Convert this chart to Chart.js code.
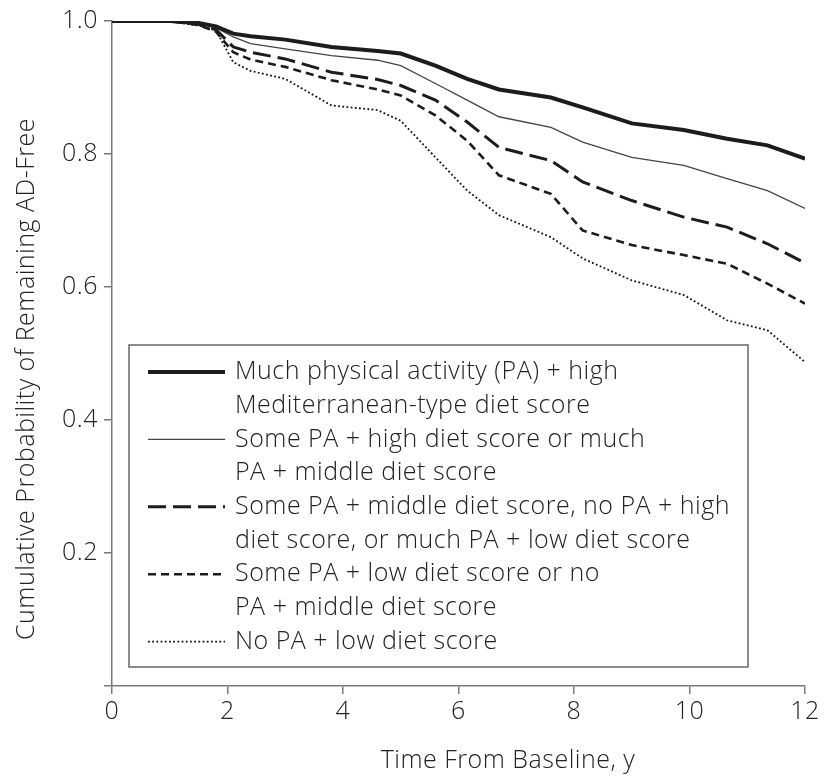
<!DOCTYPE html>
<html>
<head>
<meta charset="utf-8">
<title>Cumulative Probability of Remaining AD-Free</title>
<script src="https://cdn.jsdelivr.net/npm/chart.js@4/dist/chart.umd.min.js"></script>
<style>
    html, body { margin: 0; padding: 0; background: #fff; }
    #wrap { width: 837px; height: 777px; position: relative; }
</style>
</head>
<body>
<div id="wrap"><canvas id="kmChart"></canvas></div>
<script>
/* ==========================================================================
   Data
   ========================================================================== */

// time from baseline, years
const times = [0, 1.0, 1.5, 1.8, 2.1, 2.4, 3.0, 3.8, 4.6, 5.0, 5.6, 6.15, 6.7, 7.6, 8.15, 9.0, 9.9, 10.65, 11.35, 12];

// cumulative probability of remaining AD-free
const muchPaHighDiet = [1.0, 1.0, 0.997, 0.992, 0.981, 0.977, 0.972, 0.961, 0.955, 0.951, 0.933, 0.913, 0.897, 0.885, 0.870, 0.846, 0.836, 0.823, 0.813, 0.793];
const somePaHighDiet = [1.0, 1.0, 0.996, 0.990, 0.976, 0.966, 0.958, 0.948, 0.941, 0.933, 0.906, 0.881, 0.856, 0.840, 0.818, 0.795, 0.783, 0.763, 0.745, 0.718];
const somePaMiddleDiet = [1.0, 1.0, 0.995, 0.987, 0.961, 0.953, 0.943, 0.923, 0.912, 0.903, 0.881, 0.848, 0.810, 0.790, 0.758, 0.730, 0.705, 0.690, 0.665, 0.636];
const somePaLowDiet = [1.0, 1.0, 0.994, 0.984, 0.953, 0.942, 0.931, 0.911, 0.897, 0.888, 0.858, 0.820, 0.768, 0.740, 0.685, 0.663, 0.648, 0.635, 0.605, 0.575];
const noPaLowDiet = [1.0, 1.0, 0.993, 0.986, 0.938, 0.925, 0.913, 0.873, 0.866, 0.850, 0.795, 0.745, 0.708, 0.675, 0.643, 0.610, 0.588, 0.550, 0.535, 0.487];

// legend text, two lines per group except the last
const legendLabels = [
    ['Much physical activity (PA) + high', 'Mediterranean-type diet score'],
    ['Some PA + high diet score or much', 'PA + middle diet score'],
    ['Some PA + middle diet score, no PA + high', 'diet score, or much PA + low diet score'],
    ['Some PA + low diet score or no', 'PA + middle diet score'],
    ['No PA + low diet score']
];

const xTicks = [0, 2, 4, 6, 8, 10, 12];
const yTicks = [0, 0.2, 0.4, 0.6, 0.8, 1.0];

const xTitle = 'Time From Baseline, y';
const yTitle = 'Cumulative Probability of Remaining AD-Free';

/* ==========================================================================
   Styles
   ========================================================================== */

const FONT = "'Open Sans', 'Liberation Sans', Arial, sans-serif";
const FONT_SIZE = 25;
const FONT_WEIGHT = '300';
const LETTER_SPACING = '0.5px';
const TEXT_COLOR = '#222';
const AXIS_COLOR = '#7a7a7a';
const LINE_COLOR = '#1c1c1c';

function toPoints(values) {
    return times.map((t, i) => ({ x: t, y: values[i] }));
}

function makeDataset(label, values, width, dash, color) {
    return {
        label: label,
        data: toPoints(values),
        borderColor: color || LINE_COLOR,
        borderWidth: width,
        borderDash: dash,
        pointRadius: 0,
        tension: 0,
        fill: false
    };
}

const datasets = [
    makeDataset(legendLabels[0].join(' '), muchPaHighDiet, 4, []),
    makeDataset(legendLabels[1].join(' '), somePaHighDiet, 1.3, [], '#444'),
    makeDataset(legendLabels[2].join(' '), somePaMiddleDiet, 3, [18, 7]),
    makeDataset(legendLabels[3].join(' '), somePaLowDiet, 2.6, [8, 5]),
    makeDataset(legendLabels[4].join(' '), noPaLowDiet, 1.8, [1.8, 2.4], '#111')
];

/* ==========================================================================
   Plugins: letter spacing, axis titles and boxed legend
   ========================================================================== */

// the reference type is wide and light; widen canvas text a little
const letterSpacingPlugin = {
    id: 'letterSpacing',
    beforeDraw(chart) {
        chart.ctx.letterSpacing = LETTER_SPACING;
    }
};

const axisTitlePlugin = {
    id: 'axisTitles',
    afterDraw(chart) {
        const ctx = chart.ctx;
        ctx.save();
        ctx.letterSpacing = LETTER_SPACING;
        ctx.fillStyle = TEXT_COLOR;
        ctx.font = FONT_WEIGHT + ' ' + FONT_SIZE + 'px ' + FONT;
        ctx.textAlign = 'center';
        ctx.textBaseline = 'middle';
        ctx.fillText(xTitle, 508, 761);

        ctx.translate(27, 379);
        ctx.rotate(-Math.PI / 2);
        ctx.fillText(yTitle, 0, 0);
        ctx.restore();
    }
};

const boxLegendPlugin = {
    id: 'boxLegend',
    afterDraw(chart) {
        const ctx = chart.ctx;
        const box = { left: 129, top: 345, right: 748, bottom: 667 };
        const rowStep = 33.7;
        let rowY = 372;

        ctx.save();
        ctx.fillStyle = '#fff';
        ctx.fillRect(box.left, box.top, box.right - box.left, box.bottom - box.top);
        ctx.strokeStyle = '#666';
        ctx.lineWidth = 1.5;
        ctx.strokeRect(box.left, box.top, box.right - box.left, box.bottom - box.top);

        ctx.letterSpacing = LETTER_SPACING;
        ctx.font = FONT_WEIGHT + ' ' + FONT_SIZE + 'px ' + FONT;
        ctx.fillStyle = TEXT_COLOR;
        ctx.textBaseline = 'middle';
        ctx.textAlign = 'left';

        legendLabels.forEach((lines, i) => {
            const ds = chart.data.datasets[i];
            ctx.beginPath();
            ctx.setLineDash(ds.borderDash);
            ctx.lineWidth = ds.borderWidth;
            ctx.strokeStyle = ds.borderColor;
            ctx.moveTo(148, rowY);
            ctx.lineTo(225, rowY);
            ctx.stroke();
            ctx.setLineDash([]);

            lines.forEach(line => {
                ctx.fillText(line, 235, rowY);
                rowY += rowStep;
            });
        });
        ctx.restore();
    }
};

/* ==========================================================================
   Chart
   ========================================================================== */

const tickFont = { family: FONT, size: FONT_SIZE, weight: FONT_WEIGHT };

new Chart(document.getElementById('kmChart'), {
    type: 'line',
    data: { datasets: datasets },
    options: {
        responsive: true,
        maintainAspectRatio: false,
        animation: false,
        layout: { padding: { top: 20, right: 32, bottom: 0, left: 0 } },
        plugins: {
            legend: { display: false },
            tooltip: { enabled: false }
        },
        scales: {
            x: {
                type: 'linear',
                min: 0,
                max: 12,
                afterBuildTicks: scale => { scale.ticks = xTicks.map(v => ({ value: v })); },
                afterFit: scale => { scale.height = 91; },
                ticks: {
                    color: TEXT_COLOR,
                    font: tickFont,
                    padding: 3,
                    maxRotation: 0
                },
                grid: {
                    drawOnChartArea: false,
                    drawTicks: true,
                    tickLength: 8,
                    color: AXIS_COLOR,
                    lineWidth: 1.5
                },
                border: { display: true, color: AXIS_COLOR, width: 1.5 }
            },
            y: {
                type: 'linear',
                min: 0,
                max: 1,
                afterBuildTicks: scale => { scale.ticks = yTicks.map(v => ({ value: v })); },
                afterFit: scale => { scale.width = 112; },
                ticks: {
                    color: TEXT_COLOR,
                    font: tickFont,
                    padding: 6,
                    callback: v => (v === 0 ? '' : v.toFixed(1))
                },
                grid: {
                    drawOnChartArea: false,
                    drawTicks: true,
                    tickLength: 8,
                    color: AXIS_COLOR,
                    lineWidth: 1.5
                },
                border: { display: true, color: AXIS_COLOR, width: 1.5 }
            }
        }
    },
    plugins: [letterSpacingPlugin, axisTitlePlugin, boxLegendPlugin]
});
</script>
</body>
</html>
